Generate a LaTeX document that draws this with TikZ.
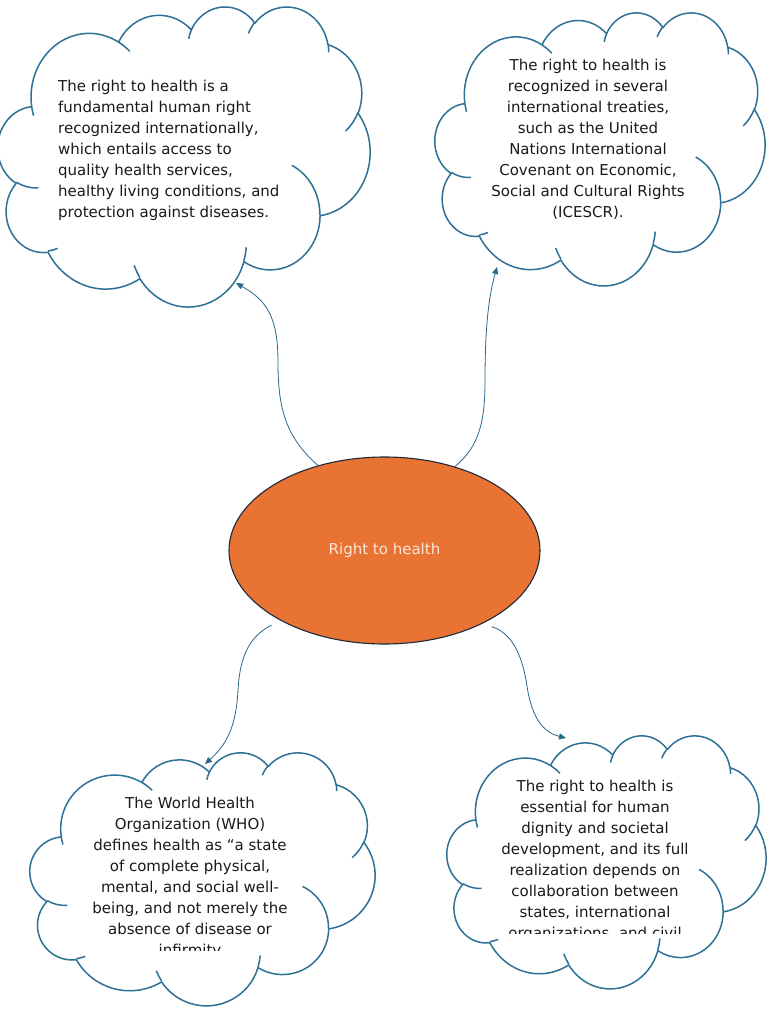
\documentclass[tikz,border=0pt]{standalone}
\usepackage{fontspec}
\setmainfont{DejaVu Sans}
\usetikzlibrary{arrows.meta,shapes.geometric}

\definecolor{cloudblue}{RGB}{46,112,150}
\definecolor{linkblue}{RGB}{40,104,140}
\definecolor{hubfill}{RGB}{233,115,50}
\definecolor{hubline}{RGB}{30,42,58}
\definecolor{hubtext}{RGB}{252,228,214}
\definecolor{bodytext}{RGB}{26,26,26}

% one puff of the cloud: x radius, y radius, start angle, sweep (visual angles)
\newcommand\puff[4]{%
  \pgfextra{%
    \pgfmathsetmacro\puffa{atan2((#1)*sin(#3),(#2)*cos(#3))}%
    \pgfmathsetmacro\puffb{atan2((#1)*sin((#3)+(#4)),(#2)*cos((#3)+(#4)))}%
    \pgfmathsetmacro\puffd{mod(\puffb-\puffa+720,360)}%
    \global\let\puffa\puffa\global\let\puffd\puffd}%
  arc[start angle=\puffa, delta angle=\puffd, x radius=#1, y radius=#2]}

\newcommand\cloudpath{%
  (39,143.7) \puff{67.53}{91.90}{-190.4875}{123.7805}
  \puff{53.33}{72.67}{-144.1024}{89.9452}
  \puff{43.65}{59.45}{-145.8079}{99.7230}
  \puff{48.57}{65.95}{-130.9861}{117.2417}
  \puff{53.33}{72.73}{-78.7089}{109.0269}
  \puff{67.75}{92.20}{-46.2673}{130.2690}
  \puff{57.85}{78.67}{0.6250}{114.0333}
  \puff{67.52}{92.15}{22.4516}{115.1726}
  \puff{77.20}{105.43}{66.2426}{75.7110}
  \puff{43.60}{59.18}{-274.9421}{146.7356}
  \puff{43.45}{59.45}{-246.8285}{152.5189} -- cycle
  (46.93,261.77) \puff{43.45}{59.45}{86.7420}{26.4295}
  (69.28,348.99) \puff{43.60}{59.18}{73.6105}{11.4475}
  (164.78,390.90) \puff{67.52}{92.15}{137.6242}{14.0811}
  (288.27,347.51) \puff{67.52}{92.15}{6.4533}{15.9984}
  (341.29,229.54) \puff{57.85}{78.67}{-70.2924}{70.9174}
  (417.98,153.54) \puff{53.33}{72.73}{30.3180}{27.7515}
  (383.24,54.26) \puff{48.57}{65.95}{-13.7443}{14.8625}
  (290.78,39.52) \puff{48.57}{65.95}{-149.1815}{18.1940}
  (221.41,47.20) \puff{43.65}{59.45}{-163.4943}{17.6881}
  (140.00,51.92) \puff{67.53}{91.90}{-66.7070}{12.3194}
  (41.27,157.89) \puff{67.53}{91.90}{157.6544}{11.8582}}

% left, top, x scale, y scale
\newcommand\cloudat[4]{%
  \begin{scope}[shift={(#1,#2)},x=#3pt,y=-#4pt]
    \draw[cloudline] \cloudpath;
  \end{scope}}

\begin{document}
\begin{tikzpicture}[x=1pt,y=-1pt,
  cloudline/.style={draw=cloudblue,line width=1.5pt,line join=round},
  blurb/.style={inner sep=0pt,text=bodytext,font={\fontsize{15}{21}\selectfont}},
  link/.style={draw=linkblue,line width=0.8pt,-{Triangle[length=7pt,width=6pt]}},
  hub/.style={ellipse,draw=hubline,line width=1.1pt,fill=hubfill,
    minimum width=311pt,minimum height=187pt,inner sep=0pt,
    text=hubtext,font={\fontsize{15}{21}\selectfont}}]
\useasboundingbox[fill=white] (0,0) rectangle (768,1024);

\cloudat{-2}{6}{0.8611}{0.6944}
\cloudat{435}{12}{0.7639}{0.6319}
\cloudat{30}{752}{0.7986}{0.5856}
\cloudat{447}{735}{0.7384}{0.5856}

\node[hub] (hub) at (384.5,550.5) {Right to health};

\node[blurb,align=left,anchor=west] (rightA) at (58,150) {The right to health is a\\
fundamental human right\\
recognized internationally,\\
which entails access to\\
quality health services,\\
healthy living conditions, and\\
protection against diseases.};

\node[blurb,align=center] (rightB) at (588,139) {The right to health is\\
recognized in several\\
international treaties,\\
such as the United\\
Nations International\\
Covenant on Economic,\\
Social and Cultural Rights\\
(ICESCR).};

\begin{scope}
\clip (40,760) rectangle (360,950);
\node[blurb,align=center] (rightC) at (190,877.5) {The World Health\\
Organization (WHO)\\
defines health as “a state\\
of complete physical,\\
mental, and social well-\\
being, and not merely the\\
absence of disease or\\
infirmity};
\end{scope}

\begin{scope}
\clip (455,745) rectangle (760,933);
\node[blurb,align=center] (rightD) at (595,860.5) {The right to health is\\
essential for human\\
dignity and societal\\
development, and its full\\
realization depends on\\
collaboration between\\
states, international\\
organizations, and civil};
\end{scope}

\coordinate (tipA) at (236,283);
\coordinate (tipB) at (497,267);
\coordinate (tipC) at (205,764);
\coordinate (tipD) at (566,738);

\draw[link] (hub.128) .. controls (284,436) and (278,405) .. (278,362)
  .. controls (278,316) and (266,300) .. (tipA);
\draw[link] (hub.50) .. controls (480,446) and (485,420) .. (485,380)
  .. controls (485,320) and (490,292) .. (tipB);
\draw[link,shorten <=10pt] (hub.214) .. controls (250,636) and (240,655) .. (238,690)
  .. controls (236,728) and (226,745) .. (tipC);
\draw[link,shorten <=10pt] (hub.323) .. controls (510,632) and (522,652) .. (527,686)
  .. controls (532,720) and (545,733) .. (tipD);
\end{tikzpicture}
\end{document}
